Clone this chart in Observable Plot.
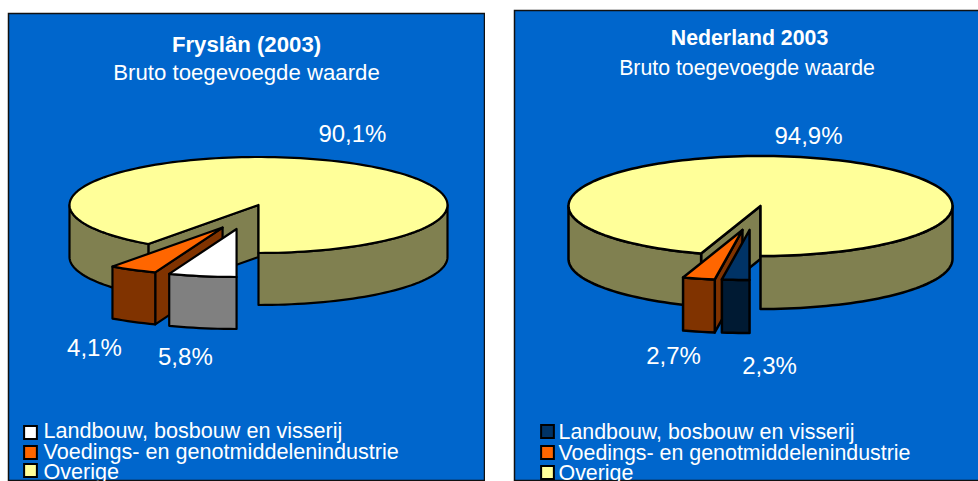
<!DOCTYPE html>
<html><head><meta charset="utf-8">
<script src="https://cdn.jsdelivr.net/npm/d3@7"></script>
<script src="https://cdn.jsdelivr.net/npm/@observablehq/plot@0.6"></script>
<style>
html,body{margin:0;padding:0;background:#fff;width:978px;height:481px;overflow:hidden}
#wrap{position:relative;width:978px;height:481px;overflow:hidden}
#wrap svg{position:absolute;overflow:hidden}
</style></head><body><div id="wrap"></div>
<script>
// ---- data ----
const categories = ["Landbouw, bosbouw en visserij", "Voedings- en genotmiddelenindustrie", "Overige"];
const frieslandValues = [5.8, 4.1, 90.1];
const nederlandValues = [2.3, 2.7, 94.9];
const frieslandTitle = ["Fryslân (2003)", "Bruto toegevoegde waarde"];
const nederlandTitle = ["Nederland 2003", "Bruto toegevoegde waarde"];

// ---- styling and layout ----
const font = "'Liberation Sans', Arial, sans-serif";
const panelBlue = "#0066CC";
const topColorsFriesland = ["#FFFFFF", "#FF6600", "#FFFF99"];
const topColorsNederland = ["#003366", "#FF6600", "#FFFF99"];
const wallColorsFriesland = ["#808080", "#803300", "#808050"];
const wallColorsNederland = ["#001A33", "#803300", "#808050"];

const frieslandLayout = {
  left: 7, top: 12, width: 478, height: 469, strokeWidth: 2.2,
  cx: 251, cy: 192.5, rx: 189, ry: 48, depth: 52 / 48,
  explode: [[-0.116, 0.5], [-0.19, 0.47], [0, 0]],
  labels: [[-0.387, 3.17], [-0.868, 2.98], [0.497, -1.48]],
  titleFont: 22.2, subFont: 22.2, legendFont: 21.6, subDx: 0,
  titleDy: [32, 60], legendDy: [419, 440, 460], swatchDy: [420, 440, 458],
  swatchDx: 30, legendDx: 36
};
const nederlandLayout = {
  left: 513, top: 9, width: 472, height: 472, strokeWidth: 2.5,
  cx: 247, cy: 196.5, rx: 192, ry: 50, depth: 53 / 50,
  explode: [[-0.057, 0.48], [-0.094, 0.48], [0, 0]],
  labels: [[0.047, 3.2], [-0.453, 3.0], [0.25, -1.4]],
  titleFont: 21.3, subFont: 21.3, legendFont: 21.4, subDx: -2.5,
  titleDy: [29, 59], legendDy: [423, 444, 464], swatchDy: [422, 443, 463],
  swatchDx: 41, legendDx: 45
};

const pct = v => v.toFixed(1).replace(".", ",") + "%";
const rad = d => d * Math.PI / 180;
// angle runs clockwise from six o'clock, in degrees
const rim = (a, ox, oy, dz = 0) => ({x: ox - Math.sin(rad(a)), y: oy + Math.cos(rad(a)) + dz});
const arcPts = (a0, a1, ox, oy, dz = 0) => {
  const n = Math.max(2, Math.ceil((a1 - a0) / 2));
  return d3.range(n + 1).map(i => rim(a0 + (a1 - a0) * i / n, ox, oy, dz));
};

function slicePolygons(values, topColors, wallColors, L) {
  const total = d3.sum(values);
  const polys = [];
  let cum = 0;
  const spans = values.map(v => { const s = [cum / total * 360, (cum + v) / total * 360]; cum += v; return s; });
  // back to front: largest slice first, then the exploded ones
  for (let i = values.length - 1; i >= 0; --i) {
    const [a0, a1] = spans[i];
    const [ox, oy] = L.explode[i];
    const d = L.depth;
    const apex = {x: ox, y: oy}, apexLow = {x: ox, y: oy + d};
    if (a0 > 0 && a0 < 180) {
      polys.push({fill: wallColors[i], pts: [apex, rim(a0, ox, oy), rim(a0, ox, oy, d), apexLow, apex]});
    }
    // only the front half of the rim wall can be seen
    const fronts = [[Math.max(a0, 0), Math.min(a1, 90)], [Math.max(a0, 270), Math.min(a1, 360)]];
    for (const [f0, f1] of fronts) {
      if (f1 <= f0) continue;
      const up = arcPts(f0, f1, ox, oy), low = arcPts(f0, f1, ox, oy, d).reverse();
      polys.push({fill: wallColors[i], pts: [...up, ...low, up[0]]});
    }
    polys.push({fill: topColors[i], pts: [apex, ...arcPts(a0, a1, ox, oy), apex]});
  }
  return polys;
}

function pie(values, titles, topColors, wallColors, L) {
  const polys = slicePolygons(values, topColors, wallColors, L);
  const labels = values.map((v, i) => ({text: pct(v), x: L.labels[i][0], y: L.labels[i][1]}));
  const white = "#FFFFFF";
  const svg = Plot.plot({
    width: L.width, height: L.height, margin: 0,
    x: {axis: null, domain: [-L.cx / L.rx, (L.width - L.cx) / L.rx], range: [0, L.width]},
    y: {axis: null, domain: [-L.cy / L.ry, (L.height - L.cy) / L.ry], range: [0, L.height]},
    style: {background: "transparent", fontFamily: font, left: L.left + "px", top: L.top + "px"},
    marks: [
      Plot.frame({fill: panelBlue, stroke: "#111", strokeWidth: 1.5, inset: 1}),
      ...polys.map(p => Plot.line(p.pts, {x: "x", y: "y", fill: p.fill, stroke: "#000", strokeWidth: L.strokeWidth, curve: "linear", strokeLinejoin: "round"})),
      Plot.text(labels, {x: "x", y: "y", text: "text", fill: white, fontSize: 24, lineAnchor: "middle"}),
      Plot.text([titles[0]], {frameAnchor: "top", dy: L.titleDy[0], fill: white, fontSize: L.titleFont, fontWeight: "bold", lineAnchor: "middle"}),
      Plot.text([titles[1]], {frameAnchor: "top", dx: L.subDx, dy: L.titleDy[1], fill: white, fontSize: L.subFont, lineAnchor: "middle"}),
      ...categories.flatMap((c, i) => [
        Plot.dot([c], {frameAnchor: "top-left", dx: L.swatchDx - 7, dy: L.swatchDy[i], symbol: "square", r: 7.2, fill: topColors[i], stroke: "#000", strokeWidth: 2}),
        Plot.text([c], {frameAnchor: "top-left", dx: L.legendDx, dy: L.legendDy[i], fill: white, fontSize: L.legendFont, lineAnchor: "middle"})
      ])
    ]
  });
  return svg;
}

const wrap = document.getElementById("wrap");
wrap.append(pie(frieslandValues, frieslandTitle, topColorsFriesland, wallColorsFriesland, frieslandLayout));
wrap.append(pie(nederlandValues, nederlandTitle, topColorsNederland, wallColorsNederland, nederlandLayout));
</script></body></html>
